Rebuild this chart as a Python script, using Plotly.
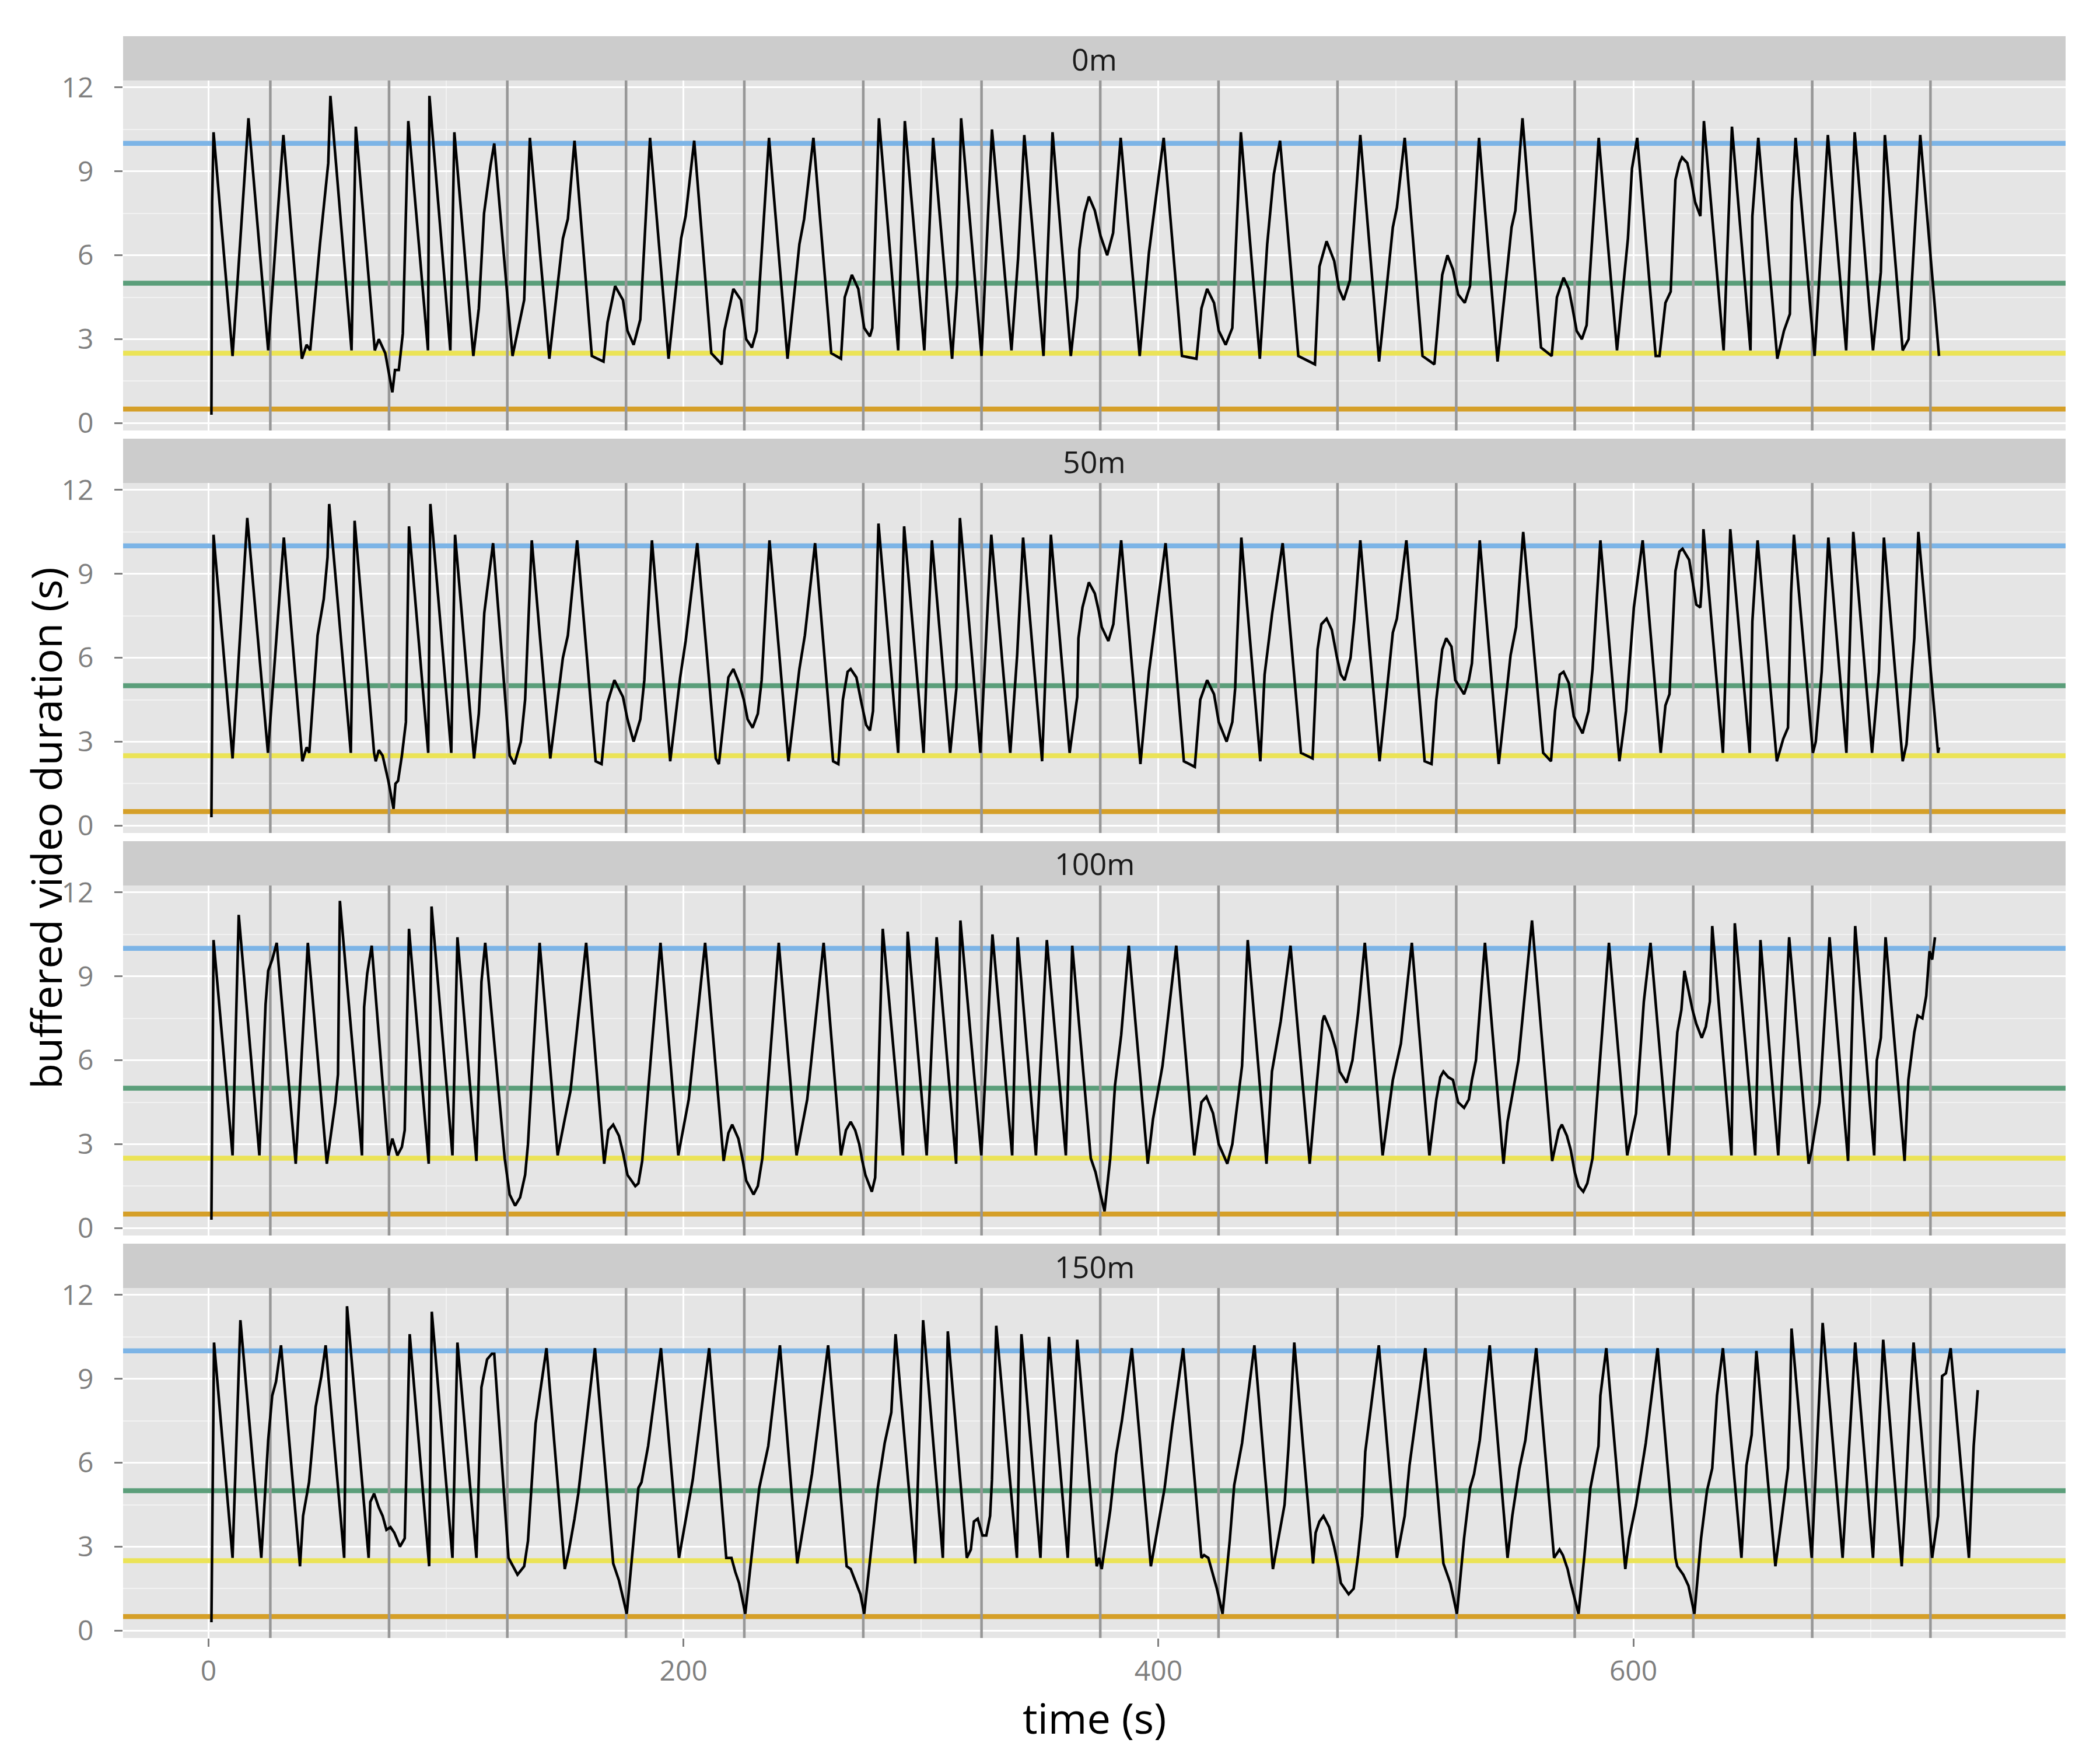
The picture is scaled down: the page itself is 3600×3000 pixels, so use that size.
import plotly.graph_objects as go

# ---------------- data ----------------
panels = ["0m", "50m", "100m", "150m"]

t_0m = [1.2, 1.5, 2.1, 10.1, 16.8, 25.1, 28.7, 31.5, 39.3, 41.3, 42.8, 46.9, 50.4, 51.3, 60.2, 62.0, 70.0, 71.7, 74.4, 77.4,
        78.5, 80.1, 81.8, 84.1, 92.4, 93.0, 101.8, 103.5, 111.5, 113.8, 116.0, 118.7, 120.3, 128.0, 132.9, 135.3, 143.5,
        149.2, 151.3, 154.1, 161.4, 166.3, 168.0, 171.2, 174.5, 176.4, 179.0, 181.8, 185.9, 193.7, 199.0, 200.9, 204.5,
        211.7, 216.1, 217.2, 221.0, 224.2, 226.4, 228.8, 230.8, 236.0, 243.8, 248.8, 250.8, 254.7, 262.2, 266.3, 267.9,
        270.9, 273.6, 276.1, 278.5, 279.5, 282.3, 290.4, 293.2, 301.4, 303.0, 305.1, 313.1, 315.2, 316.9, 325.5, 329.9,
        338.1, 340.9, 343.5, 351.6, 355.4, 363.1, 365.8, 366.7, 368.8, 370.7, 373.2, 375.6, 378.4, 380.9, 384.1, 392.1,
        396.0, 399.0, 402.2, 409.9, 416.0, 418.1, 420.5, 423.4, 425.4, 428.3, 431.1, 434.7, 442.7, 445.8, 448.6, 451.2,
        458.9, 465.9, 467.8, 470.8, 474.0, 476.0, 478.0, 480.6, 485.0, 492.9, 498.7, 500.4, 503.7, 511.2, 516.2, 519.5,
        521.7, 524.0, 526.2, 529.0, 531.2, 535.0, 542.8, 548.7, 550.3, 553.3, 561.1, 565.6, 567.8, 570.6, 572.8, 574.4,
        576.1, 578.3, 580.3, 585.4, 593.1, 597.7, 599.4, 601.6, 609.4, 611.0, 613.5, 615.7, 617.7, 619.4, 620.5, 622.7,
        624.3, 626.0, 628.2, 629.7, 638.0, 641.5, 649.3, 650.1, 652.6, 660.6, 663.4, 665.9, 666.8, 668.3, 676.3, 681.9,
        689.6, 693.2, 700.9, 704.2, 705.9, 713.4, 715.9, 718.3, 720.8, 728.7]
v_0m = [0.3, 7.9, 10.4, 2.4, 10.9, 2.6, 7.0, 10.3, 2.3, 2.8, 2.6, 6.4, 9.3, 11.7, 2.6, 10.6, 2.6, 3.0, 2.5, 1.1,
        1.9, 1.9, 3.2, 10.8, 2.6, 11.7, 2.6, 10.4, 2.4, 4.1, 7.5, 9.2, 10.0, 2.4, 4.4, 10.2, 2.3,
        6.6, 7.3, 10.1, 2.4, 2.2, 3.6, 4.9, 4.4, 3.3, 2.8, 3.7, 10.2, 2.3, 6.6, 7.4, 10.1,
        2.5, 2.1, 3.3, 4.8, 4.4, 3.0, 2.7, 3.3, 10.2, 2.3, 6.4, 7.3, 10.2, 2.5, 2.3, 4.5,
        5.3, 4.8, 3.4, 3.1, 3.4, 10.9, 2.6, 10.8, 2.6, 5.8, 10.2, 2.3, 4.9, 10.9, 2.4, 10.5,
        2.6, 5.9, 10.3, 2.4, 10.4, 2.4, 4.5, 6.2, 7.5, 8.1, 7.6, 6.7, 6.0, 6.8, 10.2, 2.4,
        6.1, 8.1, 10.2, 2.4, 2.3, 4.1, 4.8, 4.3, 3.3, 2.8, 3.4, 10.4, 2.3, 6.4, 8.9, 10.1,
        2.4, 2.1, 5.6, 6.5, 5.8, 4.8, 4.4, 5.1, 10.3, 2.2, 7.0, 7.7, 10.2, 2.4, 2.1, 5.3,
        6.0, 5.5, 4.6, 4.3, 4.9, 10.2, 2.2, 7.0, 7.6, 10.9, 2.7, 2.4, 4.5, 5.2, 4.8, 4.1,
        3.3, 3.0, 3.5, 10.2, 2.6, 6.6, 9.1, 10.2, 2.4, 2.4, 4.3, 4.7, 8.7, 9.3, 9.5, 9.3,
        8.7, 7.9, 7.4, 10.8, 2.6, 10.6, 2.6, 7.4, 10.2, 2.3, 3.3, 3.9, 7.9, 10.2, 2.4, 10.3,
        2.6, 10.4, 2.6, 5.4, 10.3, 2.6, 3.0, 6.6, 10.3, 2.4]

t_50m = [1.2, 2.1, 10.1, 16.3, 25.0, 28.7, 31.7, 39.5, 41.3, 42.4, 45.9, 48.5, 50.1, 50.8, 59.9, 61.5, 69.7, 70.4, 71.7,
         73.3, 75.7, 77.9, 78.7, 79.8, 81.4, 83.1, 84.4, 92.5, 93.4, 102.2, 103.8, 111.8, 113.8, 116.1, 119.8, 126.8,
         128.8, 131.5, 133.3, 136.1, 143.9, 149.2, 151.3, 155.2, 163.0, 165.5, 168.0, 170.9, 174.5, 176.4, 179.0, 181.8,
         183.5, 186.7, 194.4, 198.6, 200.9, 205.8, 213.6, 214.9, 217.2, 218.9, 221.0, 223.4, 225.4, 227.0, 229.1, 231.3,
         232.9, 236.2, 244.2, 248.8, 251.1, 255.4, 263.0, 265.2, 267.1, 269.1, 270.4, 272.8, 274.9, 276.9, 278.5, 279.8,
         282.1, 290.4, 292.9, 301.1, 302.7, 304.6, 312.3, 314.9, 316.4, 325.0, 329.6, 337.6, 340.5, 343.0, 351.0, 354.7,
         362.6, 365.8, 366.3, 368.0, 370.7, 373.2, 374.8, 376.1, 378.9, 381.0, 384.3, 392.4, 396.0, 399.0, 403.0, 410.7,
         415.3, 417.6, 420.5, 423.4, 425.4, 428.7, 431.1, 432.3, 434.9, 442.9, 444.7, 447.9, 452.3, 460.0, 464.9, 467.0,
         468.6, 470.8, 473.0, 475.2, 476.8, 478.4, 480.9, 482.5, 485.0, 493.1, 498.7, 500.4, 504.4, 512.1, 515.0, 517.0,
         519.5, 521.2, 523.4, 525.0, 528.7, 530.7, 532.0, 535.3, 543.3, 548.3, 550.6, 553.6, 562.0, 565.3, 567.0, 569.0,
         570.6, 572.8, 574.9, 578.6, 581.1, 582.8, 586.1, 594.1, 596.9, 600.2, 603.9, 611.5, 613.5, 615.2, 617.7, 619.4,
         620.7, 623.5, 625.2, 626.5, 628.2, 628.8, 629.5, 637.7, 640.8, 649.0, 650.1, 652.3, 660.4, 663.1, 665.1, 666.4,
         667.6, 675.6, 676.8, 679.3, 682.1, 689.7, 692.6, 700.5, 703.4, 705.5, 713.4, 715.0, 718.3, 720.0, 728.3, 728.7]
v_50m = [0.3, 10.4, 2.4, 11.0, 2.6, 7.0, 10.3, 2.3, 2.8, 2.6, 6.8, 8.1, 9.6, 11.5, 2.6, 10.9, 2.6, 2.3, 2.7,
         2.5, 1.6, 0.6, 1.5, 1.6, 2.5, 3.7, 10.7, 2.6, 11.5, 2.6, 10.4, 2.4, 4.0, 7.6, 10.1, 2.5,
         2.2, 3.0, 4.5, 10.2, 2.4, 6.0, 6.8, 10.2, 2.3, 2.2, 4.4, 5.2, 4.6, 3.8, 3.0, 3.8,
         5.2, 10.2, 2.3, 5.3, 6.6, 10.1, 2.4, 2.2, 4.1, 5.3, 5.6, 5.1, 4.5, 3.8, 3.5, 4.0,
         5.2, 10.2, 2.3, 5.6, 6.8, 10.1, 2.3, 2.2, 4.5, 5.5, 5.6, 5.3, 4.4, 3.6, 3.4, 4.1,
         10.8, 2.6, 10.7, 2.6, 6.3, 10.2, 2.6, 4.9, 11.0, 2.6, 10.4, 2.6, 6.1, 10.3, 2.3, 10.4,
         2.6, 4.6, 6.7, 7.8, 8.7, 8.3, 7.7, 7.1, 6.6, 7.2, 10.2, 2.2, 5.5, 7.4, 10.1, 2.3,
         2.1, 4.5, 5.2, 4.7, 3.7, 3.0, 3.7, 4.9, 10.3, 2.3, 5.4, 7.6, 10.1, 2.6, 2.4, 6.3,
         7.2, 7.4, 7.0, 6.0, 5.4, 5.2, 6.0, 7.4, 10.2, 2.3, 6.9, 7.4, 10.2, 2.3, 2.2, 4.5,
         6.3, 6.7, 6.4, 5.2, 4.7, 5.2, 5.8, 10.2, 2.2, 6.1, 7.1, 10.5, 2.6, 2.3, 4.1, 5.4,
         5.5, 5.1, 3.9, 3.3, 4.1, 5.6, 10.2, 2.3, 4.1, 7.8, 10.2, 2.6, 4.3, 4.7, 9.1, 9.8,
         9.9, 9.5, 8.6, 7.9, 7.8, 8.6, 10.6, 2.6, 10.6, 2.6, 7.3, 10.2, 2.3, 3.1, 3.5, 8.3,
         10.4, 2.6, 3.0, 5.5, 10.3, 2.6, 10.5, 2.6, 5.5, 10.3, 2.3, 2.9, 6.7, 10.5, 2.6, 2.8]

t_100m = [1.2, 2.1, 10.1, 12.7, 21.4, 24.0, 25.1, 26.8, 28.7, 36.7, 41.8, 49.8, 53.4, 54.5, 55.3, 64.6, 65.5, 66.8, 68.7,
          75.7, 77.4, 79.5, 81.4, 82.6, 84.4, 92.7, 93.9, 102.7, 104.8, 112.8, 114.9, 116.5, 124.7, 126.8, 129.1, 131.2,
          133.3, 134.5, 139.4, 147.0, 150.0, 152.4, 159.0, 166.6, 168.4, 170.4, 172.8, 174.5, 176.4, 179.7, 181.0, 182.6,
          190.3, 197.8, 202.2, 209.1, 216.9, 218.9, 220.5, 223.1, 225.0, 226.4, 229.5, 231.3, 233.2, 240.1, 247.6, 252.1,
          259.0, 266.3, 268.4, 270.4, 272.3, 274.0, 275.3, 276.6, 279.3, 280.7, 281.5, 283.9, 292.4, 294.4, 302.4, 306.6,
          314.8, 316.6, 325.4, 330.1, 338.4, 340.7, 348.4, 353.0, 361.0, 363.7, 371.5, 373.5, 374.8, 377.3, 379.7, 381.7,
          384.3, 387.5, 395.5, 397.7, 401.7, 407.5, 415.1, 418.1, 420.2, 423.0, 425.4, 429.0, 431.1, 435.2, 437.6, 445.5,
          447.8, 451.5, 455.6, 463.7, 466.5, 469.1, 469.8, 472.7, 474.7, 476.3, 479.2, 481.7, 484.1, 486.9, 494.4, 498.7,
          502.1, 506.7, 514.1, 517.0, 518.7, 520.0, 522.0, 524.0, 526.2, 528.7, 530.7, 532.0, 533.7, 537.5, 545.3, 547.0,
          551.6, 557.3, 565.8, 568.6, 569.9, 572.0, 573.6, 575.3, 576.9, 578.9, 580.6, 582.8, 589.7, 597.4, 601.1, 604.4,
          607.2, 614.9, 618.5, 620.2, 621.5, 622.7, 624.9, 626.5, 628.8, 630.5, 632.2, 633.2, 641.3, 642.7, 651.3, 653.5,
          661.0, 665.6, 673.8, 675.1, 678.4, 682.6, 690.4, 693.4, 701.4, 702.5, 704.2, 706.2, 714.2, 715.8, 718.3, 719.7,
          721.7, 723.3, 724.7, 725.8, 727.0]
v_100m = [0.3, 10.3, 2.6, 11.2, 2.6, 8.0, 9.2, 9.6, 10.2, 2.3, 10.2, 2.3, 4.5, 5.5, 11.7, 2.6, 7.9, 9.1, 10.1,
          2.6, 3.2, 2.6, 2.9, 3.5, 10.7, 2.3, 11.5, 2.6, 10.4, 2.4, 8.8, 10.2, 2.5, 1.2, 0.8, 1.1,
          1.9, 3.0, 10.2, 2.6, 3.9, 4.9, 10.2, 2.3, 3.5, 3.7, 3.3, 2.7, 1.9, 1.5, 1.6, 2.4,
          10.2, 2.6, 4.6, 10.2, 2.4, 3.4, 3.7, 3.2, 2.4, 1.7, 1.2, 1.5, 2.5, 10.2, 2.6, 4.6,
          10.2, 2.6, 3.5, 3.8, 3.5, 3.0, 2.4, 1.9, 1.3, 1.8, 3.7, 10.7, 2.6, 10.6, 2.6, 10.4,
          2.3, 11.0, 2.6, 10.5, 2.6, 10.4, 2.6, 10.3, 2.6, 10.1, 2.5, 2.0, 1.5, 0.6, 2.5, 5.1,
          6.9, 10.1, 2.3, 3.9, 5.8, 10.1, 2.6, 4.5, 4.7, 4.1, 3.0, 2.3, 3.0, 5.8, 10.3, 2.3,
          5.6, 7.4, 10.1, 2.3, 5.0, 7.4, 7.6, 7.0, 6.4, 5.6, 5.2, 6.0, 7.7, 10.2, 2.6, 5.3,
          6.6, 10.2, 2.6, 4.6, 5.4, 5.6, 5.4, 5.3, 4.5, 4.3, 4.6, 5.3, 6.0, 10.2, 2.3, 3.8,
          6.0, 11.0, 2.4, 3.5, 3.7, 3.3, 2.8, 2.0, 1.5, 1.3, 1.6, 2.5, 10.2, 2.6, 4.1, 8.1,
          10.2, 2.6, 7.0, 7.8, 9.2, 8.7, 7.8, 7.3, 6.8, 7.2, 8.1, 10.8, 2.6, 10.9, 2.6, 10.3,
          2.6, 10.4, 2.3, 2.8, 4.5, 10.4, 2.4, 10.8, 2.6, 6.0, 6.8, 10.4, 2.4, 5.3, 7.0, 7.6,
          7.5, 8.3, 9.9, 9.6, 10.4]

t_150m = [1.2, 2.3, 10.1, 13.4, 22.2, 24.3, 25.1, 26.8, 28.4, 30.5, 38.5, 39.8, 42.3, 43.9, 45.1, 47.5, 49.3, 57.1, 58.3,
          67.4, 68.1, 69.7, 71.7, 73.3, 74.9, 76.6, 78.2, 80.6, 82.6, 84.7, 92.9, 94.0, 102.7, 104.8, 112.8, 114.9, 117.3,
          119.3, 120.3, 126.3, 127.5, 130.1, 132.9, 134.5, 137.7, 142.3, 150.0, 151.6, 154.1, 155.7, 162.7, 170.4, 172.8,
          176.1, 181.0, 182.3, 185.1, 190.5, 198.1, 203.9, 210.8, 218.0, 220.2, 221.8, 223.4, 226.0, 230.0, 231.9, 235.7,
          240.6, 247.9, 254.1, 260.9, 268.7, 270.4, 272.8, 274.5, 276.1, 278.9, 281.8, 284.7, 287.5, 289.3, 297.6, 300.9,
          309.2, 311.3, 319.3, 321.0, 322.3, 323.9, 325.9, 327.5, 329.1, 329.9, 331.7, 340.4, 342.3, 350.3, 353.9, 361.8,
          365.8, 374.0, 375.0, 376.1, 379.7, 382.2, 384.6, 388.8, 396.8, 398.5, 402.6, 405.8, 410.4, 418.1, 419.2, 421.0,
          423.0, 424.6, 427.0, 430.0, 431.9, 435.2, 440.4, 448.2, 449.9, 453.1, 454.8, 457.2, 465.1, 466.2, 467.8, 469.5,
          471.9, 474.0, 475.7, 476.8, 480.1, 482.2, 484.1, 485.8, 487.1, 492.8, 500.4, 503.7, 505.7, 512.4, 520.0, 521.2,
          522.9, 525.7, 528.7, 531.2, 532.9, 535.3, 539.5, 547.0, 549.0, 552.0, 554.5, 559.1, 566.6, 568.9, 570.3, 572.3,
          573.6, 576.9, 579.4, 581.9, 585.3, 586.1, 588.6, 596.6, 598.2, 601.1, 605.2, 610.2, 617.7, 618.5, 621.0, 623.2,
          625.7, 628.5, 631.0, 633.2, 635.2, 637.7, 645.5, 647.6, 649.8, 651.8, 659.8, 662.6, 665.1, 666.0, 666.6, 675.1,
          679.7, 688.1, 693.4, 700.9, 705.2, 713.0, 714.2, 716.7, 718.0, 725.8, 728.3, 730.0, 731.6, 733.6, 741.3, 743.3,
          745.0]
v_150m = [0.3, 10.3, 2.6, 11.1, 2.6, 5.8, 6.8, 8.4, 8.9, 10.2, 2.3, 4.1, 5.3, 6.8, 8.0, 9.1, 10.2, 2.6, 11.6,
          2.6, 4.6, 4.9, 4.4, 4.1, 3.6, 3.7, 3.5, 3.0, 3.3, 10.6, 2.3, 11.4, 2.6, 10.3, 2.6, 8.7, 9.7,
          9.9, 9.9, 2.6, 2.4, 2.0, 2.3, 3.2, 7.4, 10.1, 2.2, 2.8, 4.0, 4.9, 10.1, 2.4, 1.8,
          0.6, 5.1, 5.3, 6.6, 10.1, 2.6, 5.4, 10.1, 2.6, 2.6, 2.1, 1.7, 0.6, 3.7, 5.1, 6.6,
          10.2, 2.4, 5.6, 10.2, 2.3, 2.2, 1.7, 1.3, 0.6, 2.9, 5.1, 6.7, 7.8, 10.6, 2.4, 11.1,
          2.6, 10.7, 2.6, 2.9, 3.9, 4.0, 3.4, 3.4, 4.1, 5.4, 10.9, 2.6, 10.6, 2.6, 10.5, 2.6,
          10.4, 2.3, 2.6, 2.2, 4.3, 6.3, 7.5, 10.1, 2.3, 3.1, 5.1, 7.3, 10.1, 2.6, 2.7, 2.6,
          2.0, 1.5, 0.6, 3.2, 5.2, 6.7, 10.2, 2.2, 3.0, 4.5, 6.6, 10.3, 2.4, 3.5, 3.9, 4.1,
          3.7, 3.0, 2.3, 1.7, 1.3, 1.5, 2.7, 4.1, 6.4, 10.2, 2.6, 4.1, 5.9, 10.1, 2.4, 2.1,
          1.7, 0.6, 3.3, 5.1, 5.6, 6.8, 10.2, 2.6, 4.1, 5.8, 6.8, 10.1, 2.6, 2.9, 2.7, 2.2,
          1.7, 0.6, 2.7, 5.1, 6.6, 8.4, 10.1, 2.2, 3.3, 4.5, 6.7, 10.1, 2.6, 2.3, 2.0, 1.6,
          0.6, 3.3, 5.0, 5.8, 8.4, 10.1, 2.6, 5.9, 7.0, 10.0, 2.3, 4.1, 5.8, 8.3, 10.8, 2.6,
          11.0, 2.6, 10.3, 2.6, 10.4, 2.3, 4.1, 8.5, 10.3, 2.6, 4.1, 9.1, 9.2, 10.1, 2.6, 6.6,
          8.6]

series_t = [t_0m, t_50m, t_100m, t_150m]
series_v = [v_0m, v_50m, v_100m, v_150m]

thresholds = [10, 5, 2.5, 0.5]
threshold_colors = ["#7CB4E6", "#5B9E7A", "#EBE356", "#D59F28"]
segment_times = [26, 76, 125.8, 175.8, 225.6, 275.7, 325.5, 375.5, 425.3, 475.4, 525.4, 575.3, 625.2, 675.3, 725.1]

x_ticks = [0, 200, 400, 600]
y_ticks = [0, 3, 6, 9, 12]
x_range = [-36, 782]
y_range = [-0.265, 12.25]

# ---------------- layout geometry ----------------
BODY = 8                      # default page margin around the plot div
W, H = 3600 - BODY, 3000 - BODY
ML, MR, MT, MB = 211 - BODY, 59, 62 - BODY, 192
PH = H - MT - MB
FONT = "Open Sans"
TICK_SIZE = 48
STRIP_SIZE = 52
XTITLE_SIZE = 72
YTITLE_SIZE = 72


def fy(py_page):
    return (H - MB - (py_page - BODY)) / PH


def fx(px_page):
    return (px_page - BODY - ML) / (W - ML - MR)


strip_h, panel_h, gap = 76, 600, 14
fig = go.Figure()
shapes = []
annotations = []
layout_axes = {}

for i, name in enumerate(panels):
    k = i + 1
    strip_top = 62 + i * (strip_h + panel_h + gap)
    panel_top = strip_top + strip_h
    panel_bot = panel_top + panel_h
    xa = "x" if k == 1 else f"x{k}"
    ya = "y" if k == 1 else f"y{k}"
    last = (k == len(panels))

    for thr, col in zip(thresholds, threshold_colors):
        fig.add_trace(go.Scatter(x=x_range, y=[thr, thr], mode="lines",
                                 line=dict(color=col, width=8.5),
                                 xaxis=xa, yaxis=ya, showlegend=False, hoverinfo="skip"))
    vx, vy = [], []
    for st in segment_times:
        vx += [st, st, None]
        vy += [y_range[0], y_range[1], None]
    fig.add_trace(go.Scatter(x=vx, y=vy, mode="lines", line=dict(color="#979797", width=4.5),
                             xaxis=xa, yaxis=ya, showlegend=False, hoverinfo="skip"))
    fig.add_trace(go.Scatter(x=series_t[i], y=series_v[i], mode="lines",
                             line=dict(color="black", width=4.5),
                             xaxis=xa, yaxis=ya, showlegend=False, hoverinfo="skip"))

    xdict = dict(
        domain=[0, 1], range=x_range, anchor=ya, automargin=False,
        tickvals=x_ticks, showticklabels=last,
        ticks="outside" if last else "", ticklen=14, tickwidth=3, tickcolor="#7F7F7F",
        tickfont=dict(family=FONT, size=TICK_SIZE, color="#7F7F7F"),
        showgrid=True, gridcolor="white", gridwidth=3, zeroline=False, showline=False,
        minor=dict(showgrid=True, gridcolor="#F2F2F2", gridwidth=1.5, tickvals=[100, 300, 500, 700]),
    )
    ydict = dict(
        domain=[fy(panel_bot), fy(panel_top)], range=y_range, anchor=xa, automargin=False,
        tickvals=y_ticks, ticks="outside", ticklen=14, tickwidth=3, tickcolor="#7F7F7F",
        tickfont=dict(family=FONT, size=TICK_SIZE, color="#7F7F7F"),
        ticklabelstandoff=26,
        showgrid=True, gridcolor="white", gridwidth=3, zeroline=False, showline=False,
        minor=dict(showgrid=True, gridcolor="#F2F2F2", gridwidth=1.5, tickvals=[1.5, 4.5, 7.5, 10.5]),
    )
    layout_axes["xaxis" if k == 1 else f"xaxis{k}"] = xdict
    layout_axes["yaxis" if k == 1 else f"yaxis{k}"] = ydict

    shapes.append(dict(type="rect", xref="paper", yref="paper", x0=0, x1=1,
                       y0=fy(panel_top), y1=fy(strip_top), fillcolor="#CCCCCC",
                       line=dict(width=0), layer="below"))
    annotations.append(dict(text=name, xref="paper", yref="paper", x=0.5,
                            y=fy(strip_top + strip_h / 2), showarrow=False,
                            xanchor="center", yanchor="middle",
                            font=dict(family=FONT, size=STRIP_SIZE, color="#1A1A1A")))

annotations.append(dict(text="time (s)", xref="paper", yref="paper", x=0.5, y=fy(2944),
                        showarrow=False, xanchor="center", yanchor="middle",
                        font=dict(family=FONT, size=XTITLE_SIZE, color="black")))
annotations.append(dict(text="buffered video duration (s)", xref="paper", yref="paper",
                        x=fx(78), y=fy(1420), textangle=-90,
                        showarrow=False, xanchor="center", yanchor="middle",
                        font=dict(family=FONT, size=YTITLE_SIZE, color="black")))

fig.update_layout(
    width=W, height=H, margin=dict(l=ML, r=MR, t=MT, b=MB),
    paper_bgcolor="white", plot_bgcolor="#E5E5E5",
    font=dict(family=FONT),
    shapes=shapes, annotations=annotations, showlegend=False,
    **layout_axes,
)

fig.write_html("out.html")
